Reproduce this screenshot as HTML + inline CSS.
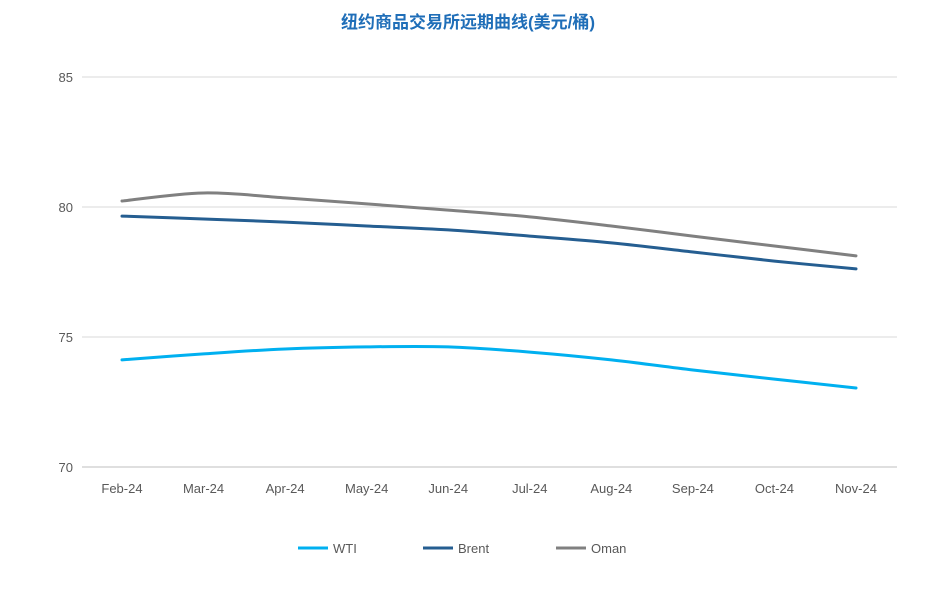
<!DOCTYPE html>
<html><head><meta charset="utf-8"><style>
body{margin:0;background:#fff;}
svg text{font-family:"Liberation Sans","Noto Sans CJK SC",sans-serif;}
</style></head><body>
<svg id="chart" width="937" height="601" xmlns="http://www.w3.org/2000/svg">
<text x="468" y="28" text-anchor="middle" font-size="17" font-weight="bold" fill="#1F6EB8">纽约商品交易所远期曲线(美元/桶)</text>
<g id="grid"></g><g id="series"></g><g id="legend"></g>
</svg>
<script>
const categories=["Feb-24","Mar-24","Apr-24","May-24","Jun-24","Jul-24","Aug-24","Sep-24","Oct-24","Nov-24"];
const wti=[74.12,74.35,74.54,74.62,74.62,74.42,74.12,73.73,73.38,73.04];
const brent=[79.65,79.54,79.42,79.27,79.12,78.88,78.62,78.27,77.92,77.62];
const oman=[80.23,80.54,80.35,80.12,79.88,79.62,79.27,78.88,78.50,78.12];
const yTicks=[70,75,80,85];
const NS="http://www.w3.org/2000/svg";
const x=i=>122+i*(856-122)/(categories.length-1);
const y=v=>467-(v-70)*26;
function mk(t,a,p){const e=document.createElementNS(NS,t);for(const k in a)e.setAttribute(k,a[k]);p.appendChild(e);return e;}
const grid=document.getElementById('grid');
yTicks.forEach(t=>{
 const l=mk('line',{x1:82,x2:897,y1:y(t),y2:y(t),stroke:t===70?'#bfbfbf':'#d9d9d9','stroke-width':1},grid);
 
 
 const tx=mk('text',{x:73,y:y(t)+5,'text-anchor':'end','font-size':13,fill:'#595959'},grid);
 tx.textContent=t;
 
 
});
categories.forEach((c,i)=>{
 const tx=mk('text',{x:x(i),y:493,'text-anchor':'middle','font-size':13,fill:'#595959'},grid);
 tx.textContent=c;
 
 
});
function path(vals){
 const p=vals.map((v,i)=>[x(i),y(v)]);
 let d='M'+p[0][0]+','+p[0][1];
 for(let i=0;i<p.length-1;i++){
  const p0=p[i-1]||p[i],p1=p[i],p2=p[i+1],p3=p[i+2]||p2;
  const c1=[p1[0]+(p2[0]-p0[0])/6,p1[1]+(p2[1]-p0[1])/6];
  const c2=[p2[0]-(p3[0]-p1[0])/6,p2[1]-(p3[1]-p1[1])/6];
  d+=` C${c1[0]},${c1[1]} ${c2[0]},${c2[1]} ${p2[0]},${p2[1]}`;
 }
 return d;
}
const ser=document.getElementById('series');
const defs=[["WTI",wti,"#00B0F0",298],["Brent",brent,"#255E91",423],["Oman",oman,"#808080",556]];
const leg=document.getElementById('legend');
defs.forEach(([n,v,c,lx])=>{
 const p=mk('path',{d:path(v),fill:'none',stroke:c,'stroke-width':3,'stroke-linecap':'round'},ser);
 
 
 const g=mk('g',{},leg);
 
 
 mk('line',{x1:lx,x2:lx+30,y1:548,y2:548,stroke:c,'stroke-width':3},g);
 const t=mk('text',{x:lx+35,y:553,'font-size':13,fill:'#595959'},g);
 t.textContent=n;
});
</script>
</body></html>
